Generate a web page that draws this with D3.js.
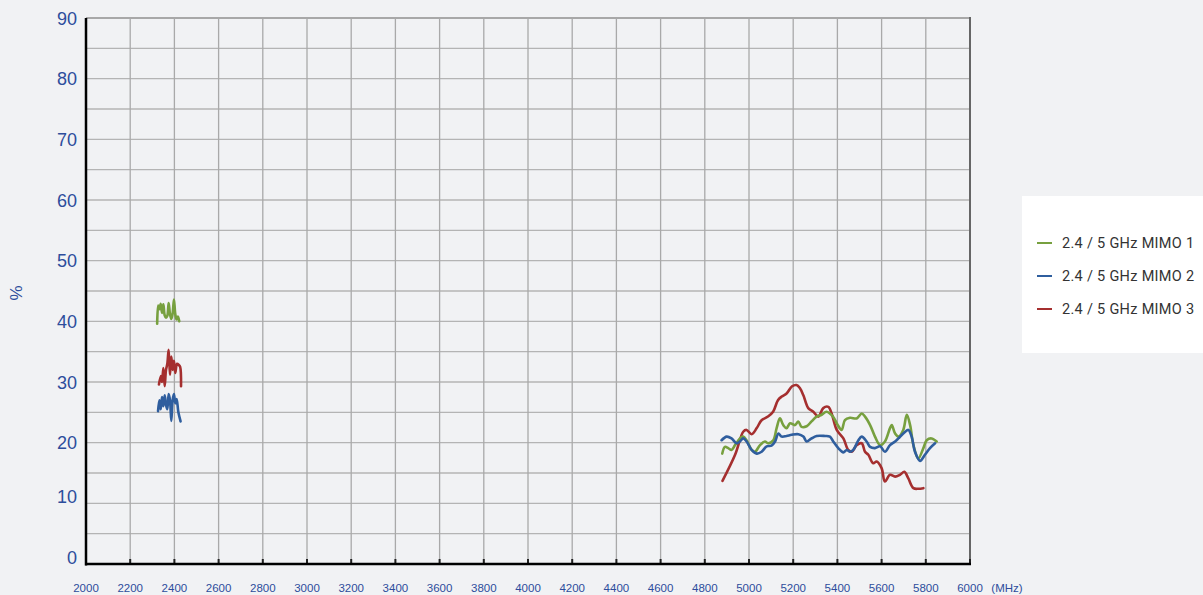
<!DOCTYPE html>
<html>
<head>
<meta charset="utf-8">
<script src="https://cdn.jsdelivr.net/npm/d3@7"></script>
<style>
  body { margin: 0; background: #f1f2f4; }
</style>
</head>
<body>
<div id="container"></div>
<script>
let w = 1203;
let h = 595;

// ticks
let xTicks = [2000,2200,2400,2600,2800,3000,3200,3400,3600,3800,4000,4200,4400,4600,4800,5000,5200,5400,5600,5800,6000];
let yTicks = [0,10,20,30,40,50,60,70,80,90];
let yGrid = [0,5,10,15,20,25,30,35,40,45,50,55,60,65,70,75,80,85,90];

let seriesNames = ["2.4 / 5 GHz MIMO 1", "2.4 / 5 GHz MIMO 2", "2.4 / 5 GHz MIMO 3"];
let seriesColors = ["#77a03f", "#2f5e9e", "#a52f2f"];

// [MHz, %]  2.4 GHz band
let mimo1_24 = [[2322,39.6],[2327,42.6],[2333,42.0],[2338,42.9],[2344,41.4],[2350,42.8],[2356,41.0],[2362,40.6],[2368,40.9],[2374,43.0],[2380,41.2],[2386,40.4],[2392,41.3],[2398,43.6],[2404,41.2],[2410,40.3],[2416,40.8],[2422,40.0]];
let mimo2_24 = [[2326,25.2],[2332,27.0],[2338,25.5],[2344,27.5],[2350,26.0],[2356,27.8],[2362,26.2],[2368,25.5],[2374,28.0],[2380,27.0],[2386,23.6],[2392,27.0],[2398,28.0],[2404,26.5],[2410,27.2],[2418,25.0],[2428,23.5]];
let mimo3_24 = [[2330,29.6],[2339,31.0],[2344,30.0],[2350,32.3],[2356,29.3],[2362,32.0],[2368,33.0],[2374,35.3],[2380,31.2],[2386,34.2],[2392,32.0],[2398,33.5],[2404,31.5],[2412,33.0],[2420,32.8],[2426,32.5],[2430,29.3]];

// [MHz, %]  5 GHz band
let mimo1_5 = [[4879,18.2],[4891,19.3],[4906,19.1],[4921,18.8],[4937,19.6],[4959,20.7],[4974,21.0],[4989,20.4],[5012,18.8],[5027,18.5],[5050,19.6],[5072,20.2],[5087,19.9],[5110,20.4],[5125,22.4],[5140,24.0],[5155,22.9],[5170,22.4],[5186,23.2],[5208,22.9],[5223,23.5],[5238,22.6],[5261,22.7],[5283,23.5],[5306,24.3],[5329,24.6],[5351,25.1],[5380,24.3],[5400,23.0],[5419,22.1],[5434,23.7],[5457,24.1],[5487,24.0],[5510,24.8],[5525,24.3],[5548,22.9],[5570,21.0],[5593,19.6],[5615,20.2],[5638,22.4],[5646,22.9],[5661,21.5],[5676,21.0],[5698,22.1],[5714,24.6],[5729,22.9],[5744,19.6],[5766,17.4],[5789,19.1],[5804,20.4],[5826,20.7],[5849,20.2]];
let mimo2_5 = [[4876,20.4],[4899,21.0],[4921,20.7],[4944,19.9],[4959,20.2],[4974,20.7],[4989,20.2],[5012,18.8],[5035,18.2],[5057,18.5],[5080,19.4],[5102,19.5],[5118,20.2],[5133,21.5],[5148,21.0],[5170,21.1],[5193,21.3],[5223,21.4],[5246,21.0],[5261,20.2],[5283,20.7],[5306,21.1],[5344,21.1],[5366,21.0],[5381,20.2],[5404,19.1],[5427,18.4],[5442,18.8],[5457,18.5],[5472,18.8],[5495,20.4],[5510,21.0],[5532,20.2],[5548,19.3],[5570,19.1],[5593,19.4],[5615,18.5],[5638,19.6],[5661,20.2],[5676,20.7],[5698,21.5],[5721,22.1],[5736,21.0],[5751,18.5],[5774,17.0],[5796,18.0],[5819,19.1],[5842,19.9]];
let mimo3_5 = [[4880,13.7],[4937,18.0],[4974,21.8],[4989,22.1],[5012,21.4],[5035,22.4],[5057,23.7],[5086,24.3],[5109,25.1],[5131,27.0],[5148,27.6],[5170,28.1],[5195,29.3],[5215,29.5],[5230,29.0],[5246,27.8],[5268,25.7],[5291,25.1],[5314,24.3],[5336,25.7],[5359,25.9],[5374,24.8],[5397,22.1],[5427,20.7],[5449,18.8],[5465,18.5],[5487,19.6],[5510,19.9],[5525,18.5],[5540,18.0],[5562,16.6],[5578,16.9],[5600,15.8],[5615,13.6],[5638,14.7],[5661,14.4],[5683,14.7],[5703,15.2],[5721,14.1],[5744,12.5],[5766,12.4],[5789,12.5]];

let viz = d3.select("#container")
  .append("svg")
    .attr("width", w)
    .attr("height", h)
    .style("background-color", "#f1f2f4");

let x = d3.scaleLinear().domain([2000, 6000]).range([86, 970]);
let y = d3.scaleLinear().domain([0, 90]).range([564, 18]);

let blue = "#2d4d9c";

// horizontal grid
viz.append("g")
  .selectAll("line")
  .data(yGrid)
  .join("line")
    .attr("x1", x(2000))
    .attr("x2", x(6000))
    .attr("y1", d => y(d))
    .attr("y2", d => y(d))
    .attr("stroke", d => d == 90 ? "#a8a8a8" : "#b4b4b4")
    .attr("stroke-width", d => d == 90 ? 2 : 1.3);

// vertical grid
viz.append("g")
  .selectAll("line")
  .data(xTicks.slice(1, -1))
  .join("line")
    .attr("x1", d => x(d))
    .attr("x2", d => x(d))
    .attr("y1", y(90))
    .attr("y2", y(0))
    .attr("stroke", "#a9a9a9")
    .attr("stroke-width", 1.3);

// right border
viz.append("line")
  .attr("x1", x(6000)).attr("x2", x(6000))
  .attr("y1", y(90) - 1).attr("y2", y(0))
  .attr("stroke", "#666")
  .attr("stroke-width", 2);

// small ticks at bottom
viz.append("g")
  .selectAll("line")
  .data(xTicks.slice(1))
  .join("line")
    .attr("x1", d => x(d))
    .attr("x2", d => x(d))
    .attr("y1", y(0) - 5)
    .attr("y2", y(0))
    .attr("stroke", "#222")
    .attr("stroke-width", 2);

// axes
viz.append("line")
  .attr("x1", x(2000)).attr("x2", x(2000))
  .attr("y1", y(90)).attr("y2", y(0) + 1.5)
  .attr("stroke", "#000")
  .attr("stroke-width", 2.5);

viz.append("line")
  .attr("x1", x(2000) - 1).attr("x2", x(6000) + 1)
  .attr("y1", y(0)).attr("y2", y(0))
  .attr("stroke", "#000")
  .attr("stroke-width", 2.5);

// y labels
viz.append("g")
  .selectAll("text")
  .data(yTicks)
  .join("text")
    .attr("x", 77)
    .attr("y", d => y(d) + (d <= 10 ? -6.5 : 0.5))
    .attr("dy", "0.35em")
    .attr("text-anchor", "end")
    .attr("style", "font-size:18px; font-family: 'Liberation Sans', Arial, sans-serif;")
    .attr("fill", blue)
    .text(d => d);

// x labels
viz.append("g")
  .selectAll("text")
  .data(xTicks)
  .join("text")
    .attr("x", d => x(d))
    .attr("y", 592)
    .attr("text-anchor", "middle")
    .attr("style", "font-size:11.5px; font-family: 'Liberation Sans', Arial, sans-serif;")
    .attr("fill", blue)
    .text(d => d);

viz.append("text")
  .attr("x", 1007)
  .attr("y", 592)
  .attr("text-anchor", "middle")
  .attr("style", "font-size:11.5px; font-family: 'Liberation Sans', Arial, sans-serif;")
  .attr("fill", blue)
  .text("(MHz)");

viz.append("text")
  .attr("transform", "translate(22,293) rotate(-90)")
  .attr("text-anchor", "middle")
  .attr("style", "font-size:17px; font-family: 'Liberation Sans', Arial, sans-serif;")
  .attr("fill", blue)
  .text("%");

// lines
let line = d3.line()
  .x(d => x(d[0]))
  .y(d => y(d[1]))
  .curve(d3.curveCatmullRom.alpha(0.5));

let segments = [
  [mimo1_24, 0], [mimo2_24, 1], [mimo3_24, 2],
  [mimo3_5, 2], [mimo1_5, 0], [mimo2_5, 1]
];

viz.append("g")
  .selectAll("path")
  .data(segments)
  .join("path")
    .attr("d", d => line(d[0]))
    .attr("fill", "none")
    .attr("stroke", d => seriesColors[d[1]])
    .attr("stroke-width", 2.6)
    .attr("stroke-linejoin", "round")
    .attr("stroke-linecap", "round");

// legend
viz.append("rect")
  .attr("x", 1022)
  .attr("y", 196)
  .attr("width", 181)
  .attr("height", 157)
  .attr("fill", "#ffffff");

for (let i = 0; i < seriesNames.length; i++) {
  viz.append("line")
    .attr("x1", 1037).attr("x2", 1052)
    .attr("y1", 243 + i * 33).attr("y2", 243 + i * 33)
    .attr("stroke", seriesColors[i])
    .attr("stroke-width", 2);

  viz.append("text")
    .attr("x", 1062)
    .attr("y", 243 + i * 33)
    .attr("dy", "0.35em")
    .attr("style", "font-size:14.5px; letter-spacing:0.3px; font-family: Roboto, sans-serif;")
    .attr("fill", "#333")
    .text(seriesNames[i]);
}
</script>
</body>
</html>
